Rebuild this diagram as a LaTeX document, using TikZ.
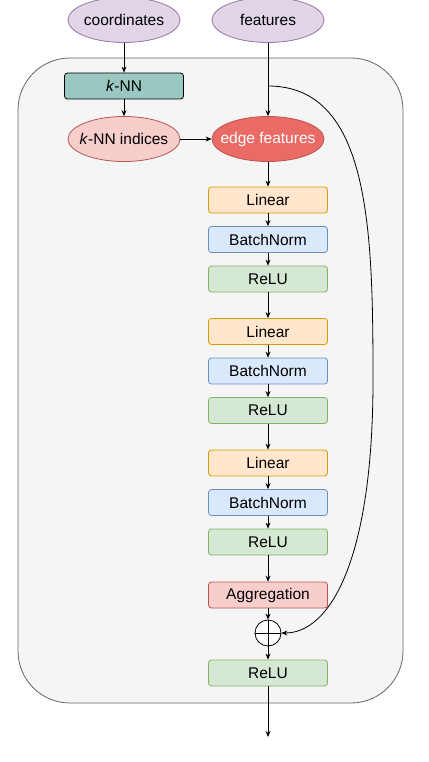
\documentclass[tikz,border=0pt]{standalone}
\usepackage{fontspec}
\setmainfont{Liberation Sans}
\usetikzlibrary{shapes.geometric,arrows.meta}
\definecolor{purplefill}{HTML}{E1D5E7}
\definecolor{purpleline}{HTML}{9673A6}
\definecolor{tealfill}{HTML}{9AC7BF}
\definecolor{orangefill}{HTML}{FFE6CC}
\definecolor{orangeline}{HTML}{D79B00}
\definecolor{bluefill}{HTML}{DAE8FC}
\definecolor{blueline}{HTML}{6C8EBF}
\definecolor{greenfill}{HTML}{D5E8D4}
\definecolor{greenline}{HTML}{82B366}
\definecolor{redfill}{HTML}{F8CECC}
\definecolor{redline}{HTML}{B85450}
\definecolor{darkred}{HTML}{EA6B66}
\definecolor{boxfill}{HTML}{F5F5F5}
\definecolor{boxline}{HTML}{666666}
\begin{document}
\begin{tikzpicture}[x=1pt,y=-1pt,line width=0.8pt,font=\fontsize{15.5}{18}\selectfont,>={Stealth[length=6pt,width=5pt]}]
	\tikzstyle{layer}=[rectangle,rounded corners=3pt,draw,minimum width=119pt,minimum height=26pt,inner sep=0pt]
	\tikzstyle{blob}=[ellipse,draw,minimum width=112pt,minimum height=45pt,inner xsep=-12pt,inner ysep=0pt]
	\tikzstyle{linear}=[layer,fill=orangefill,draw=orangeline]
	\tikzstyle{bn}=[layer,fill=bluefill,draw=blueline]
	\tikzstyle{relu}=[layer,fill=greenfill,draw=greenline]
	\useasboundingbox (0,0) rectangle (428,762);
	\draw[boxline,fill=boxfill,rounded corners=52pt] (18,58) rectangle (403,703);
	\node[blob,fill=purplefill,draw=purpleline] (coords) at (124,20) {coordinates};
	\node[blob,fill=purplefill,draw=purpleline] (feats) at (268,20) {features};
	\node[layer,fill=tealfill,draw=black] (knn) at (124,86) {\textit{k}-NN};
	\node[blob,fill=redfill,draw=redline] (idx) at (124,139) {\textit{k}-NN indices};
	\node[blob,fill=darkred,draw=redline,text=white] (edge) at (268,139) {edge features};
	\foreach \i/\y in {1/200,2/331.5,3/463}{
		\node[linear] (lin_\i) at (268,\y) {Linear};
		\node[bn] (bn_\i) at (268,\y+39.5) {BatchNorm};
		\node[relu] (relu_\i) at (268,\y+79) {ReLU};
		\draw[->] (lin_\i) -- (bn_\i);
		\draw[->] (bn_\i) -- (relu_\i);
	}
	\node[layer,fill=redfill,draw=redline] (agg) at (268,595) {Aggregation};
	\node[circle,draw,fill=white,minimum size=26pt,inner sep=0pt,
		path picture={\draw (path picture bounding box.north) -- (path picture bounding box.south)
		(path picture bounding box.west) -- (path picture bounding box.east);}] (sum) at (268,633) {};
	\node[relu] (out) at (268,673) {ReLU};
	\coordinate (skip) at (268,86);
	\coordinate (end) at (268,737);
	\draw[->] (coords) -- (knn);
	\draw[->] (knn) -- (idx);
	\draw[->] (idx) -- (edge);
	\draw[->] (feats) -- (edge);
	\draw[->] (edge) -- (lin_1);
	\draw[->] (relu_1) -- (lin_2);
	\draw[->] (relu_2) -- (lin_3);
	\draw[->] (relu_3) -- (agg);
	\draw[->] (agg) -- (sum);
	\draw[->] (sum) -- (out);
	\draw[->] (out) -- (end);
	\draw[->] (skip) .. controls (370,86) and (373,230) .. (373,380) .. controls (373,560) and (330,633) .. (sum);
\end{tikzpicture}
\end{document}
